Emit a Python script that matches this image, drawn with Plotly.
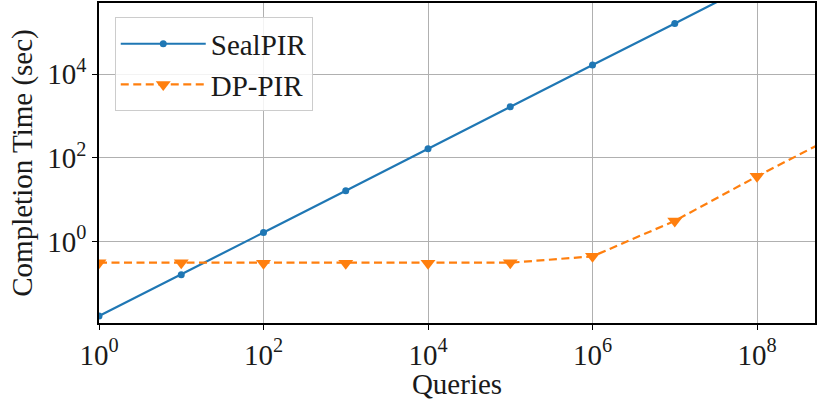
import plotly.graph_objects as go

# Number of queries (x) and completion times in seconds for each scheme
queries = [1e0, 1e1, 1e2, 1e3, 1e4, 1e5, 1e6, 1e7, 1e8, 1e9]
sealpir_time = [0.0164, 0.16, 1.63, 16.3, 165, 1650, 16500, 1.63e5, 1.63e6, 1.63e7]
dppir_time = [0.31, 0.31, 0.30, 0.30, 0.30, 0.31, 0.44, 3.1, 36, 370]

x_tickvals = [1e0, 1e2, 1e4, 1e6, 1e8]
x_ticktext = ["10<sup>0</sup>", "10<sup>2</sup>", "10<sup>4</sup>", "10<sup>6</sup>", "10<sup>8</sup>"]
y_tickvals = [1e0, 1e2, 1e4]
y_ticktext = ["10<sup>0</sup>", "10<sup>2</sup>", "10<sup>4</sup>"]

BLUE = "#1f77b4"
ORANGE = "#ff7f0e"
FONT = "Liberation Serif"
TEXT = "#1a1a1a"

fig = go.Figure()
fig.add_trace(go.Scatter(
    x=queries, y=sealpir_time, name="SealPIR", mode="lines+markers",
    line=dict(color=BLUE, width=2.2),
    marker=dict(symbol="circle", size=7, color=BLUE),
))
fig.add_trace(go.Scatter(
    x=queries, y=dppir_time, name="DP-PIR", mode="lines+markers",
    line=dict(color=ORANGE, width=2.2, dash="8px,4.5px"),
    marker=dict(symbol="triangle-down", size=13, color=ORANGE),
))

axis_common = dict(
    type="log",
    showline=True, linecolor="black", linewidth=1.5, mirror=True,
    ticks="outside", ticklen=5, tickwidth=1.2, tickcolor="black",
    showgrid=True, gridcolor="#b0b0b0", gridwidth=1.2,
    zeroline=False,
    tickfont=dict(family=FONT, size=29, color=TEXT),
)

fig.update_xaxes(
    **axis_common,
    range=[0, 8.705],
    tickvals=x_tickvals, ticktext=x_ticktext,
    title=dict(text="Queries", font=dict(family=FONT, size=29, color=TEXT), standoff=0),
)
fig.update_yaxes(
    **axis_common,
    range=[-1.95, 5.70],
    tickvals=y_tickvals, ticktext=y_ticktext,
    title=dict(text="Completion Time (sec)", font=dict(family=FONT, size=29, color=TEXT), standoff=6),
)

fig.update_layout(
    width=821, height=400,
    margin=dict(l=99, r=6, t=1, b=77),
    paper_bgcolor="white", plot_bgcolor="white",
    showlegend=True,
    legend=dict(
        x=0.022, y=0.955, xanchor="left", yanchor="top",
        bgcolor="rgba(255,255,255,0.85)", bordercolor="#cccccc", borderwidth=1,
        font=dict(family=FONT, size=29, color=TEXT),
        itemwidth=85,
    ),
)

fig.write_html("out.html")
